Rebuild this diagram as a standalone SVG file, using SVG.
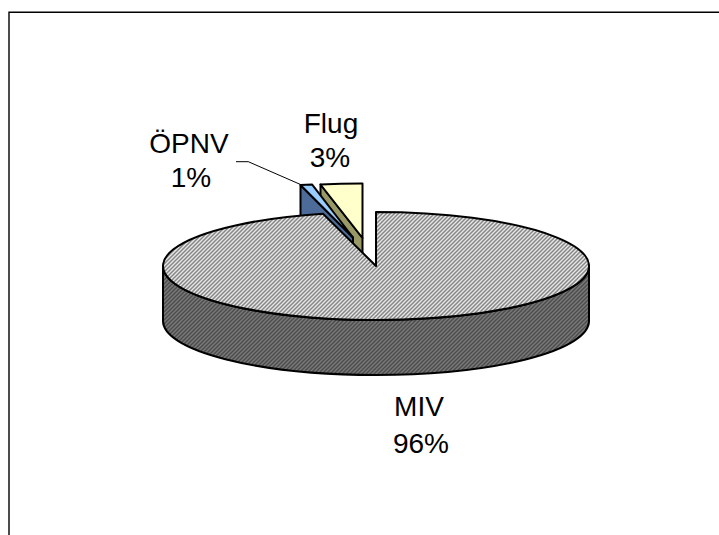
<svg xmlns="http://www.w3.org/2000/svg" width="719" height="535" viewBox="0 0 719 535">
<defs>
<pattern id="hatchTop" patternUnits="userSpaceOnUse" width="4" height="4">
<rect width="4" height="4" fill="#e8e8e8"/>
<path d="M-1,1 L1,-1 M0,4 L4,0 M3,5 L5,3" stroke="#868686" stroke-width="1.5"/>
</pattern>
<pattern id="hatchSide" patternUnits="userSpaceOnUse" width="4" height="4">
<rect width="4" height="4" fill="#7a7a7a"/>
<path d="M-1,1 L1,-1 M0,4 L4,0 M3,5 L5,3" stroke="#4c4c4c" stroke-width="1.5"/>
</pattern>
</defs>
<style>
.edge{stroke:#000;stroke-width:2;stroke-linejoin:round}
.lbl{font-family:"Liberation Sans",Arial,sans-serif;font-size:28px;fill:#000;text-anchor:middle}
.frame{stroke:#000;stroke-width:1.4;fill:none}
.lead{stroke:#000;stroke-width:1;fill:none}
</style>
<rect width="719" height="535" fill="#fff"/>
<path class="frame" d="M9,535 L9,12.3 L719,12.3"/>
<g id="node-flug">
<path class="edge" fill="#999966" d="M362.5,238 L320.5,184.5 L320.5,239.5 L362.5,293 Z"/>
<path class="edge" fill="#ffffcc" d="M362.5,238 L362.5,183.5 A213,54 0 0,0 320.5,184.5 Z"/>
<text class="lbl" x="331" y="133">Flug</text>
<text class="lbl" x="330" y="167">3%</text>
</g>
<g id="node-oepnv">
<path class="edge" fill="#4d6b99" d="M353,237.5 L300.5,185 L300.5,240 L353,292.5 Z"/>
<path class="edge" fill="#99ccff" d="M353,237.5 L312,184.4 A213,54 0 0,0 300.5,185 Z"/>
<text class="lbl" x="189" y="153">ÖPNV</text>
<text class="lbl" x="191" y="187">1%</text>
</g>
<g id="node-miv">
<path class="edge" fill="url(#hatchSide)" d="M163,266 A213,54 0 0,0 589,266 L589,321 A213,54 0 0,1 163,321 Z"/>
<path class="edge" fill="url(#hatchTop)" d="M376,266 L376,212 A213,54 0 1,1 323,213.7 Z"/>
<text class="lbl" x="419" y="416">MIV</text>
<text class="lbl" x="421" y="453">96%</text>
</g>
<g id="connectors">
<path class="lead" d="M236,161.7 L248.3,161.7 L301.7,185"/>
</g>
</svg>
